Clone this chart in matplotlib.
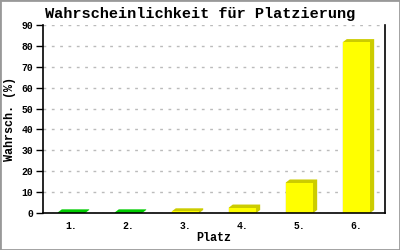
import matplotlib
matplotlib.use("Agg")
import matplotlib.pyplot as plt
from matplotlib.patches import Polygon, Rectangle

categories = ["1.", "2.", "3.", "4.", "5.", "6."]
values = [0.3, 0.3, 0.8, 2.6, 14.6, 81.8]
front_colors = ["#00cc00", "#00cc00", "#ffff00", "#ffff00", "#ffff00", "#ffff00"]
side_colors = ["#00cc00", "#00cc00", "#cccc00", "#cccc00", "#cccc00", "#cccc00"]
yticks = [0, 10, 20, 30, 40, 50, 60, 70, 80, 90]

mono = ["Liberation Mono", "DejaVu Sans Mono"]

fig = plt.figure(figsize=(4, 2.5), dpi=100)
ax = fig.add_axes([43/400, (250-213)/250, (385-43)/400, (213-25)/250])

width = 0.48
dx = 0.07
dy = 1.45
for i, (v, fc, sc) in enumerate(zip(values, front_colors, side_colors)):
    x0 = i - width / 2
    x1 = i + width / 2
    poly = Polygon([(x0, 0), (x0, v), (x0 + dx, v + dy), (x1 + dx, v + dy),
                    (x1 + dx, dy), (x1, 0)], closed=True, facecolor=sc,
                   edgecolor="none", zorder=2)
    ax.add_patch(poly)
    ax.bar(i, v, width=width, color=fc, edgecolor="none", zorder=3)

ax.set_xlim(-0.5, 5.5)
ax.set_ylim(0, 90)
ax.set_yticks(yticks)
ax.set_xticks(range(len(categories)))
ax.set_xticklabels(categories)
ax.tick_params(axis="x", length=0, pad=6, labelsize=7)
ax.tick_params(axis="y", length=5, width=1, pad=2, labelsize=7, color="black")
for lab in ax.get_xticklabels() + ax.get_yticklabels():
    lab.set_family(mono)
    lab.set_fontweight("bold")

ax.grid(axis="y", color="#bbbbbb", linestyle=(0, (2, 4)), linewidth=1, zorder=0)
ax.set_axisbelow(True)
ax.spines["top"].set_visible(False)
for s in ["left", "right", "bottom"]:
    ax.spines[s].set_linewidth(1.2)
    ax.spines[s].set_color("black")
    ax.spines[s].set_zorder(5)

fig.text(0.5, 1 - 14/250, "Wahrscheinlichkeit für Platzierung", family=mono,
         fontweight="bold", fontsize=11, ha="center", va="center")
fig.text(214/400, 1 - 238/250, "Platz", family=mono, fontweight="bold",
         fontsize=8.5, ha="center", va="center")
ax.set_ylabel("Wahrsch. (%)", family=mono, fontweight="bold", fontsize=8.5, labelpad=4)

fig.patches.append(Rectangle((0, 0), 1, 1, transform=fig.transFigure, fill=False,
                             edgecolor="#999999", linewidth=2))

fig.savefig("out.png", dpi=100)
